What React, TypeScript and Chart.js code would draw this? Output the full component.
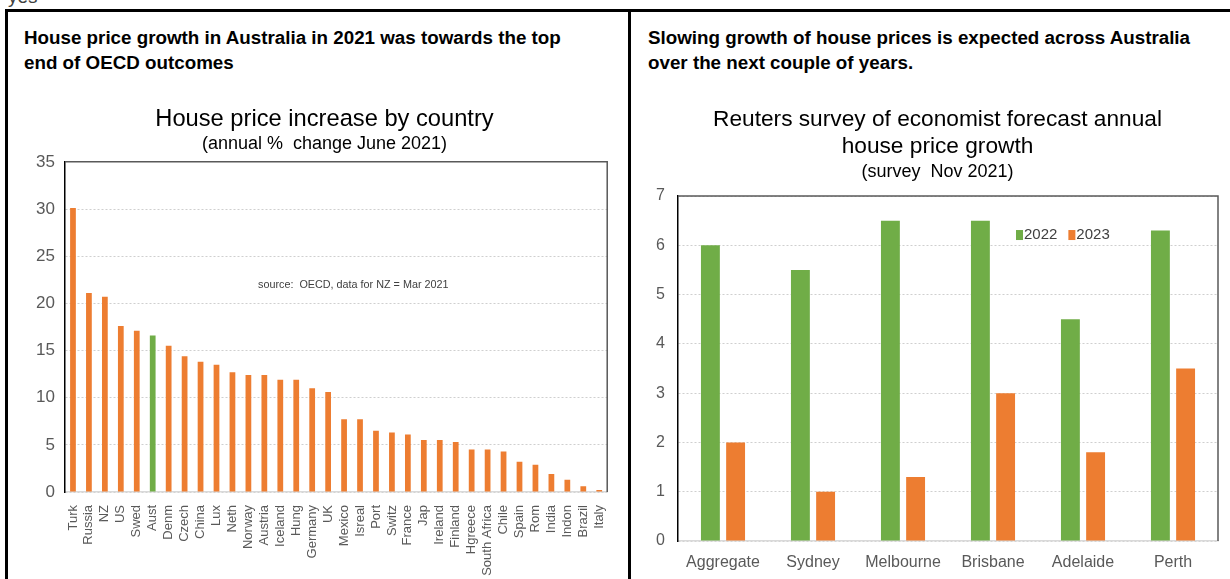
import React, { useEffect, useRef } from "react";
import { Chart, registerables } from "chart.js";

Chart.register(...registerables);

const FONT = "'Liberation Sans', Arial, sans-serif";
const ORANGE = "#ED7D31";
const GREEN = "#70AD47";

// Left chart data
const countries = [
  "Turk", "Russia", "NZ", "US", "Swed", "Aust", "Denm", "Czech", "China", "Lux",
  "Neth", "Norway", "Austria", "Iceland", "Hung", "Germany", "UK", "Mexico", "Isreal", "Port",
  "Switz", "France", "Jap", "Ireland", "Finland", "Hgreece", "South Africa", "Chile", "Spain", "Rom",
  "India", "Indon", "Brazil", "Italy",
];
const priceGrowth = [
  30.1, 21.1, 20.7, 17.6, 17.1, 16.6, 15.5, 14.4, 13.8, 13.5,
  12.7, 12.4, 12.4, 11.9, 11.9, 11.0, 10.6, 7.7, 7.7, 6.5,
  6.3, 6.1, 5.5, 5.5, 5.3, 4.5, 4.5, 4.3, 3.2, 2.9,
  1.9, 1.3, 0.6, 0.2,
];
const highlightedCountry = "Aust";
const leftYMax = 35;
const leftYStep = 5;

// Right chart data
const cities = ["Aggregate", "Sydney", "Melbourne", "Brisbane", "Adelaide", "Perth"];
const seriesLabels = ["2022", "2023"];
const forecast2022 = [6.0, 5.5, 6.5, 6.5, 4.5, 6.3];
const forecast2023 = [2.0, 1.0, 1.3, 3.0, 1.8, 3.5];
const rightYMax = 7;
const rightYStep = 1;

const frame = {
  id: "frame",
  beforeDatasetsDraw(chart: any) {
    const { ctx, chartArea: a } = chart;
    ctx.save();
    ctx.strokeStyle = "#595959";
    ctx.lineWidth = 1.5;
    ctx.beginPath();
    ctx.moveTo(a.left, a.top);
    ctx.lineTo(a.right, a.top);
    ctx.lineTo(a.right, a.bottom);
    ctx.stroke();
    ctx.restore();
  },
};

const sourceNote = {
  id: "sourceNote",
  afterDatasetsDraw(chart: any) {
    const { ctx, chartArea: a } = chart;
    const y = chart.scales.y.getPixelForValue(21.9);
    ctx.save();
    ctx.font = `10.8px ${FONT}`;
    ctx.fillStyle = "#404040";
    ctx.textAlign = "left";
    ctx.textBaseline = "middle";
    ctx.fillText("source:  OECD, data for NZ = Mar 2021", a.left + 193, y);
    ctx.restore();
  },
};

const insideLegend = {
  id: "insideLegend",
  afterDatasetsDraw(chart: any) {
    const { ctx, chartArea: a } = chart;
    let x = a.left + 338;
    const y = a.top + 39;
    ctx.save();
    ctx.font = `15px ${FONT}`;
    ctx.textBaseline = "middle";
    ctx.textAlign = "left";
    chart.data.datasets.forEach((ds: any) => {
      ctx.fillStyle = ds.backgroundColor;
      ctx.fillRect(x, y - 5, 7, 10);
      ctx.fillStyle = "#404040";
      ctx.fillText(ds.label, x + 8, y);
      x += 8 + ctx.measureText(ds.label).width + 11;
    });
    ctx.restore();
  },
};

// invisible right-hand spacer axis so the centred title sits where it does in the reference
const spacerAxis = (width: number) => ({
  position: "right",
  display: true,
  min: 0,
  max: 1,
  grid: { display: false, drawTicks: false },
  border: { display: false },
  ticks: { display: false },
  afterFit: (axis: any) => {
    axis.width = width;
  },
});

function LeftChart() {
  const ref = useRef<HTMLCanvasElement>(null);
  useEffect(() => {
    const chart = new Chart(ref.current!, {
      type: "bar",
      data: {
        labels: countries,
        datasets: [
          {
            label: "House price increase",
            data: priceGrowth,
            backgroundColor: countries.map((c) => (c === highlightedCountry ? GREEN : ORANGE)),
            categoryPercentage: 1,
            barPercentage: 0.36,
            yAxisID: "y",
          },
        ],
      },
      options: {
        responsive: false,
        animation: false,
        layout: { padding: { left: 21, right: 2, top: 0, bottom: 0 } },
        plugins: {
          legend: { display: false },
          tooltip: { enabled: false },
          title: {
            display: true,
            text: "House price increase by country",
            color: "#000",
            font: { family: FONT, size: 23.7, weight: "normal" },
            padding: { top: 4.8, bottom: 0 },
          },
          subtitle: {
            display: true,
            text: "(annual %  change June 2021)",
            color: "#000",
            font: { family: FONT, size: 18, weight: "normal" },
            padding: { top: 0, bottom: 7 },
          },
        },
        scales: {
          x: {
            grid: { display: false },
            border: { display: true, color: "#d9d9d9", width: 1.5 },
            ticks: {
              autoSkip: false,
              maxRotation: 90,
              minRotation: 90,
              padding: 5,
              color: "#595959",
              font: { family: FONT, size: 13 },
            },
            afterFit: (axis: any) => {
              axis.height = 87;
            },
          },
          y: {
            position: "left",
            min: 0,
            max: leftYMax,
            ticks: {
              stepSize: leftYStep,
              padding: 10,
              color: "#595959",
              font: { family: FONT, size: 17 },
            },
            grid: { color: "#cfcfcf", drawTicks: false, lineWidth: 1 },
            border: { display: true, color: "#000", width: 1.5, dash: [2, 2] },
            afterFit: (axis: any) => {
              axis.width = 34;
            },
          },
          spacer: spacerAxis(9),
        },
      },
      plugins: [frame, sourceNote],
    } as any);
    return () => chart.destroy();
  }, []);
  return <canvas ref={ref} width={610} height={479} style={{ width: 610, height: 479 }} />;
}

function RightChart() {
  const ref = useRef<HTMLCanvasElement>(null);
  useEffect(() => {
    const chart = new Chart(ref.current!, {
      type: "bar",
      data: {
        labels: cities,
        datasets: [
          {
            label: seriesLabels[0],
            data: forecast2022,
            backgroundColor: GREEN,
            categoryPercentage: 0.56,
            barPercentage: 0.75,
            yAxisID: "y",
          },
          {
            label: seriesLabels[1],
            data: forecast2023,
            backgroundColor: ORANGE,
            categoryPercentage: 0.56,
            barPercentage: 0.75,
            yAxisID: "y",
          },
        ],
      },
      options: {
        responsive: false,
        animation: false,
        layout: { padding: { left: 12, right: 7, top: 0, bottom: 0 } },
        plugins: {
          legend: { display: false },
          tooltip: { enabled: false },
          title: {
            display: true,
            text: ["Reuters survey of economist forecast annual", "house price growth"],
            color: "#000",
            font: { family: FONT, size: 22.7, weight: "normal", lineHeight: 1.19 },
            padding: { top: 6.5, bottom: 0 },
          },
          subtitle: {
            display: true,
            text: "(survey  Nov 2021)",
            color: "#000",
            font: { family: FONT, size: 18, weight: "normal" },
            padding: { top: 0.7, bottom: 13.2 },
          },
        },
        scales: {
          x: {
            grid: { display: false },
            border: { display: true, color: "#d9d9d9", width: 1.5 },
            ticks: {
              padding: 4,
              color: "#595959",
              font: { family: FONT, size: 16 },
            },
            afterFit: (axis: any) => {
              axis.height = 38;
            },
          },
          y: {
            position: "left",
            min: 0,
            max: rightYMax,
            ticks: {
              stepSize: rightYStep,
              padding: 13,
              color: "#595959",
              font: { family: FONT, size: 16 },
            },
            grid: { color: "#cfcfcf", drawTicks: false, lineWidth: 1 },
            border: { display: true, color: "#000", width: 1.5, dash: [2, 2] },
            afterFit: (axis: any) => {
              axis.width = 26;
            },
          },
          spacer: spacerAxis(5),
        },
      },
      plugins: [frame, insideLegend],
    } as any);
    return () => chart.destroy();
  }, []);
  return <canvas ref={ref} width={590} height={479} style={{ width: 590, height: 479 }} />;
}

const headingStyle: React.CSSProperties = {
  position: "absolute",
  top: 24.5,
  fontFamily: FONT,
  fontWeight: "bold",
  fontSize: 18.8,
  lineHeight: "25px",
  color: "#000",
  whiteSpace: "nowrap",
};

export default function App() {
  return (
    <div
      style={{
        position: "fixed",
        left: 0,
        top: 0,
        width: 1230,
        height: 579,
        overflow: "hidden",
        background: "#fff",
      }}
    >
      <div
        style={{
          position: "absolute",
          left: 8,
          top: -13,
          fontFamily: FONT,
          fontSize: 19,
          lineHeight: "19px",
          color: "#404040",
        }}
      >
        yes
      </div>
      {/* panel borders */}
      <div style={{ position: "absolute", left: 5, top: 9, width: 1225, height: 3, background: "#000" }} />
      <div style={{ position: "absolute", left: 5, top: 9, width: 3, height: 570, background: "#000" }} />
      <div style={{ position: "absolute", left: 628, top: 9, width: 3, height: 570, background: "#000" }} />

      <div style={{ ...headingStyle, left: 24 }}>
        House price growth in Australia in 2021 was towards the top
        <br />
        end of OECD outcomes
      </div>
      <div style={{ ...headingStyle, left: 648 }}>
        Slowing growth of house prices is expected across Australia
        <br />
        over the next couple of years.
      </div>

      <div style={{ position: "absolute", left: 10, top: 100 }}>
        <LeftChart />
      </div>
      <div style={{ position: "absolute", left: 640, top: 100 }}>
        <RightChart />
      </div>
    </div>
  );
}
